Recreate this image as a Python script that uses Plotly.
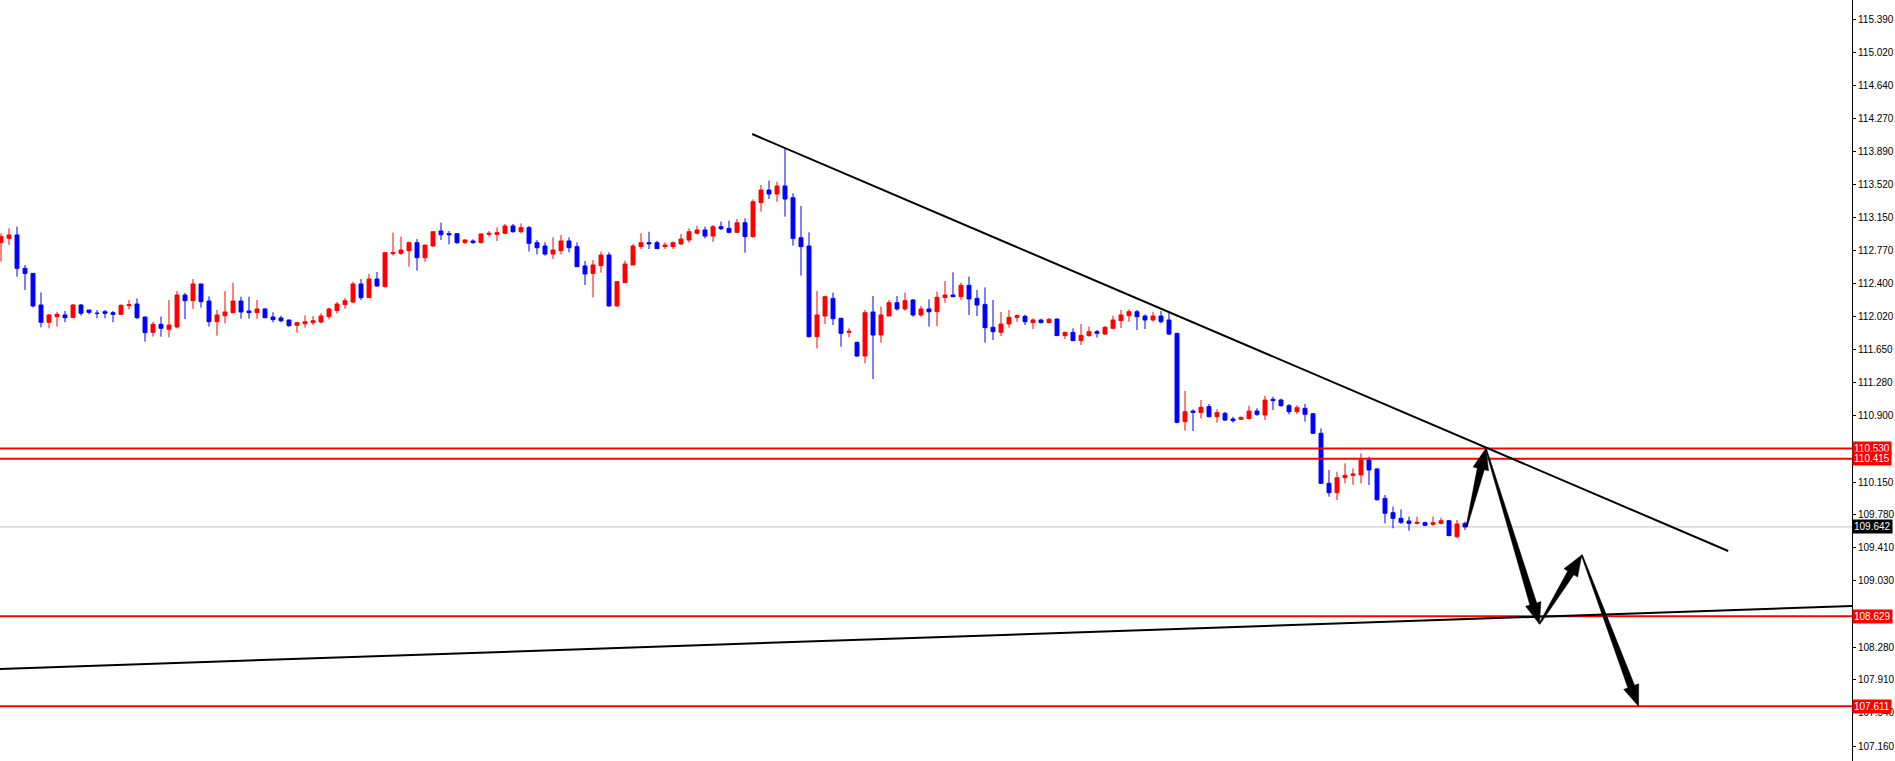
import plotly.graph_objects as go

# candle data, oldest first
opens = [
    112.861, 112.910, 112.948, 112.570, 112.513, 112.155, 111.959, 112.023, 112.042, 112.015,
    112.155, 112.098, 112.061, 112.079, 112.068, 112.049, 112.147, 112.166, 112.019, 111.845,
    111.936, 111.879, 111.906, 112.268, 112.204, 112.393, 112.200, 111.966, 112.034, 112.068,
    112.200, 112.087, 112.068, 112.110, 112.019, 112.008, 111.985, 111.925, 111.943, 111.955,
    111.962, 112.023, 112.091, 112.159, 112.189, 112.393, 112.238, 112.449, 112.363, 112.736,
    112.740, 112.770, 112.861, 112.691, 112.823, 112.993, 112.963, 112.963, 112.861, 112.880,
    112.861, 112.955, 112.955, 112.967, 113.050, 112.985, 113.031, 112.861, 112.823, 112.732,
    112.770, 112.880, 112.816, 112.597, 112.513, 112.600, 112.721, 112.144, 112.408, 112.608,
    112.816, 112.861, 112.861, 112.816, 112.816, 112.846, 112.891, 112.967, 113.004, 112.936,
    113.042, 113.023, 112.978, 113.087, 112.929, 113.314, 113.457, 113.412, 113.503, 113.370,
    112.917, 112.823, 111.796, 112.030, 112.230, 112.004, 111.845, 111.732, 111.577, 112.076,
    111.815, 112.030, 112.181, 112.110, 112.212, 112.042, 112.110, 112.079, 112.238, 112.268,
    112.249, 112.378, 112.230, 112.162, 111.902, 111.845, 111.940, 112.015, 112.027, 111.955,
    111.985, 111.955, 111.996, 111.808, 111.845, 111.751, 111.808, 111.853, 111.826, 111.891,
    111.977, 112.034, 112.079, 112.030, 111.985, 112.030, 111.985, 111.834, 110.834, 110.954,
    110.936, 111.004, 110.890, 110.928, 110.864, 110.860, 110.868, 110.954, 110.909, 111.087,
    111.079, 111.015, 110.947, 110.985, 110.924, 110.702, 110.135, 110.029, 110.199, 110.226,
    110.230, 110.400, 110.298, 109.965, 109.803, 109.739, 109.709, 109.682, 109.690, 109.671,
    109.682, 109.712, 109.531, 109.682,
]
highs = [
    112.967, 113.023, 113.042, 112.608, 112.513, 112.298, 112.053, 112.079, 112.087, 112.166,
    112.166, 112.098, 112.098, 112.098, 112.087, 112.162, 112.212, 112.230, 112.023, 111.966,
    112.023, 112.212, 112.313, 112.291, 112.449, 112.393, 112.253, 112.098, 112.313, 112.408,
    112.249, 112.249, 112.212, 112.117, 112.072, 112.034, 111.989, 111.959, 112.038, 112.030,
    112.061, 112.125, 112.189, 112.234, 112.419, 112.449, 112.506, 112.529, 112.748, 112.974,
    112.929, 112.872, 112.902, 112.834, 112.993, 113.087, 112.993, 112.967, 112.899, 112.899,
    112.967, 112.993, 113.034, 113.072, 113.072, 113.080, 113.050, 112.891, 112.865, 112.921,
    112.948, 112.921, 112.865, 112.653, 112.665, 112.759, 112.751, 112.419, 112.657, 112.846,
    112.967, 112.985, 112.883, 112.865, 112.872, 112.959, 113.023, 113.050, 113.042, 113.061,
    113.099, 113.110, 113.129, 113.136, 113.352, 113.514, 113.563, 113.552, 113.937, 113.420,
    113.276, 112.978, 112.313, 112.261, 112.295, 112.011, 111.891, 111.740, 112.098, 112.257,
    112.136, 112.212, 112.257, 112.295, 112.223, 112.144, 112.219, 112.306, 112.427, 112.525,
    112.408, 112.476, 112.325, 112.355, 112.212, 112.076, 112.098, 112.049, 112.045, 112.004,
    112.000, 112.008, 112.000, 111.853, 111.891, 111.940, 111.910, 111.872, 111.917, 112.034,
    112.098, 112.106, 112.098, 112.049, 112.079, 112.087, 112.079, 111.834, 111.181, 110.973,
    111.079, 111.034, 110.973, 110.943, 110.890, 110.890, 111.015, 110.985, 111.128, 111.117,
    111.094, 111.034, 111.022, 111.034, 110.928, 110.758, 110.286, 110.267, 110.362, 110.305,
    110.475, 110.437, 110.305, 110.003, 109.871, 109.841, 109.758, 109.758, 109.701, 109.758,
    109.747, 109.720, 109.720, 109.701,
]
lows = [
    112.646, 112.834, 112.476, 112.325, 112.128, 111.902, 111.891, 111.910, 111.959, 112.004,
    112.034, 112.049, 112.004, 112.004, 111.959, 112.042, 112.106, 111.996, 111.740, 111.796,
    111.796, 111.789, 111.891, 111.996, 112.110, 112.125, 111.910, 111.808, 111.947, 112.061,
    112.000, 112.000, 112.000, 112.011, 111.959, 111.959, 111.910, 111.842, 111.898, 111.928,
    111.947, 111.993, 112.061, 112.113, 112.174, 112.212, 112.238, 112.363, 112.351, 112.714,
    112.721, 112.589, 112.544, 112.646, 112.816, 112.891, 112.842, 112.849, 112.849, 112.849,
    112.853, 112.929, 112.880, 112.959, 112.974, 112.967, 112.759, 112.729, 112.714, 112.676,
    112.729, 112.751, 112.589, 112.381, 112.242, 112.521, 112.136, 112.136, 112.408, 112.608,
    112.789, 112.789, 112.793, 112.789, 112.789, 112.834, 112.861, 112.955, 112.910, 112.872,
    113.004, 112.967, 112.967, 112.748, 112.917, 113.212, 113.355, 113.325, 113.155, 112.827,
    112.487, 111.789, 111.664, 111.940, 111.928, 111.683, 111.789, 111.570, 111.494, 111.317,
    111.728, 112.030, 112.091, 112.091, 112.023, 112.023, 111.910, 111.917, 112.181, 112.249,
    112.212, 112.042, 112.030, 111.728, 111.759, 111.804, 111.898, 111.966, 111.928, 111.883,
    111.947, 111.947, 111.804, 111.770, 111.747, 111.702, 111.796, 111.785, 111.815, 111.879,
    111.894, 111.966, 111.872, 111.883, 111.966, 111.947, 111.815, 110.815, 110.732, 110.728,
    110.871, 110.883, 110.822, 110.841, 110.822, 110.852, 110.860, 110.898, 110.852, 110.966,
    111.004, 110.917, 110.921, 110.834, 110.694, 110.128, 109.984, 109.946, 110.135, 110.117,
    110.135, 110.117, 109.940, 109.682, 109.626, 109.675, 109.599, 109.671, 109.652, 109.652,
    109.671, 109.539, 109.512, 109.607,
]
closes = [
    112.929, 112.948, 112.570, 112.513, 112.144, 111.959, 112.042, 112.049, 112.011, 112.155,
    112.061, 112.072, 112.061, 112.061, 112.049, 112.151, 112.159, 112.011, 111.842, 111.936,
    111.891, 111.928, 112.268, 112.204, 112.393, 112.193, 111.966, 112.042, 112.076, 112.200,
    112.076, 112.068, 112.110, 112.011, 111.989, 111.977, 111.921, 111.955, 111.966, 111.977,
    112.030, 112.110, 112.166, 112.204, 112.393, 112.238, 112.449, 112.370, 112.748, 112.748,
    112.778, 112.861, 112.691, 112.834, 112.985, 112.951, 112.951, 112.861, 112.891, 112.861,
    112.959, 112.967, 112.974, 113.050, 112.985, 113.031, 112.853, 112.804, 112.732, 112.778,
    112.880, 112.804, 112.589, 112.506, 112.608, 112.721, 112.144, 112.419, 112.619, 112.823,
    112.861, 112.849, 112.793, 112.834, 112.861, 112.902, 112.985, 113.004, 112.936, 113.042,
    113.019, 112.978, 113.087, 112.929, 113.325, 113.457, 113.412, 113.503, 113.355, 112.910,
    112.816, 111.796, 112.042, 112.249, 112.000, 111.834, 111.857, 111.577, 112.068, 111.815,
    112.042, 112.181, 112.110, 112.204, 112.042, 112.110, 112.079, 112.242, 112.268, 112.249,
    112.378, 112.223, 112.155, 111.898, 111.853, 111.940, 112.015, 112.034, 111.966, 111.985,
    111.955, 111.993, 111.808, 111.845, 111.751, 111.811, 111.853, 111.834, 111.902, 111.985,
    112.042, 112.079, 112.023, 111.985, 112.030, 111.966, 111.826, 110.826, 110.947, 110.939,
    110.996, 110.890, 110.936, 110.852, 110.845, 110.883, 110.954, 110.917, 111.079, 111.072,
    111.015, 110.947, 110.992, 110.917, 110.702, 110.135, 110.029, 110.199, 110.226, 110.241,
    110.400, 110.286, 109.950, 109.796, 109.739, 109.694, 109.682, 109.694, 109.660, 109.690,
    109.712, 109.543, 109.675, 109.642,
]

# price axis
tick_prices = [115.390, 115.020, 114.640, 114.270, 113.890, 113.520, 113.150, 112.770,
               112.400, 112.020, 111.650, 111.280, 110.900, 110.150, 109.780, 109.410,
               109.030, 108.280, 107.910, 107.540, 107.160]
y_range = [106.991, 115.609]
x_range = [-0.125, 231.375]

# horizontal levels and current bid
level_prices = [110.530, 110.415, 108.629, 107.611]
bid_price = 109.642

# trendlines (bar index, price)
down_trend_x = [93.9, 215.9]
down_trend_y = [114.091, 109.369]
up_trend_x = [-0.125, 231.375]
up_trend_y = [108.033, 108.746]

# projected path drawn with arrows
proj_x = [183.2, 185.6, 192.3, 197.6, 204.7]
proj_y = [109.642, 110.530, 108.542, 109.324, 107.611]

W, H = 1852, 761
FONT = "Liberation Sans"


def to_px(xv, yv):
    px = (xv - x_range[0]) / (x_range[1] - x_range[0]) * W
    py = (y_range[1] - yv) / (y_range[1] - y_range[0]) * H
    return px, py


def to_data(px, py):
    xv = x_range[0] + px / W * (x_range[1] - x_range[0])
    yv = y_range[1] - py / H * (y_range[1] - y_range[0])
    return xv, yv


def arrow_path(x0, y0, x1, y1, head=21, head_w=8, shaft_w=3.6, tail_w=0.6):
    """Tapered arrow polygon from (x0,y0) to (x1,y1), built in pixels."""
    tx, ty = to_px(x0, y0)
    hx, hy = to_px(x1, y1)
    length = ((hx - tx) ** 2 + (hy - ty) ** 2) ** 0.5
    dx, dy = (hx - tx) / length, (hy - ty) / length
    nx, ny = -dy, dx
    bx, by = hx - dx * head, hy - dy * head
    pts = [
        (tx + nx * tail_w, ty + ny * tail_w),
        (bx + nx * shaft_w, by + ny * shaft_w),
        (bx + nx * head_w, by + ny * head_w),
        (hx, hy),
        (bx - nx * head_w, by - ny * head_w),
        (bx - nx * shaft_w, by - ny * shaft_w),
        (tx - nx * tail_w, ty - ny * tail_w),
    ]
    coords = [to_data(px, py) for px, py in pts]
    return "M " + " L ".join(f"{a:.4f},{b:.5f}" for a, b in coords) + " Z"


fig = go.Figure()

fig.add_trace(go.Candlestick(
    x=list(range(len(opens))),
    open=opens, high=highs, low=lows, close=closes,
    increasing=dict(line=dict(color='#FF0000', width=1), fillcolor='#FF0000'),
    decreasing=dict(line=dict(color='#0000FF', width=1), fillcolor='#0000FF'),
    whiskerwidth=0,
    hoverinfo='skip'
))

shapes = []

# bid line
shapes.append(dict(type='line', xref='paper', x0=0, x1=1, yref='y', y0=bid_price, y1=bid_price,
                   line=dict(color='#C0C0C0', width=1), layer='below'))

# red levels
for p in level_prices:
    shapes.append(dict(type='line', xref='paper', x0=0, x1=1, yref='y', y0=p, y1=p,
                       line=dict(color='#FF0000', width=2)))

# trendlines
shapes.append(dict(type='line', x0=down_trend_x[0], y0=down_trend_y[0],
                   x1=down_trend_x[1], y1=down_trend_y[1], line=dict(color='black', width=2)))
shapes.append(dict(type='line', x0=up_trend_x[0], y0=up_trend_y[0],
                   x1=up_trend_x[1], y1=up_trend_y[1], line=dict(color='black', width=2)))

# projection arrows
for i in range(len(proj_x) - 1):
    shapes.append(dict(type='path', path=arrow_path(proj_x[i], proj_y[i], proj_x[i + 1], proj_y[i + 1]),
                       fillcolor='black', line=dict(color='black', width=0.5)))

annotations = []
for p in level_prices:
    annotations.append(dict(xref='paper', x=1, xanchor='left', yref='y', y=p, yanchor='middle',
                            text=f"{p:.3f}", showarrow=False, bgcolor='#FF0000', borderpad=1,
                            font=dict(family=FONT, size=10, color='white')))
annotations.append(dict(xref='paper', x=1, xanchor='left', yref='y', y=bid_price, yanchor='middle',
                        text=f"{bid_price:.3f}", showarrow=False, bgcolor='black', borderpad=1,
                        font=dict(family=FONT, size=10, color='white')))

fig.update_layout(
    width=1895,
    height=761,
    margin=dict(l=0, r=43, t=0, b=0),
    paper_bgcolor='white',
    plot_bgcolor='white',
    showlegend=False,
    shapes=shapes,
    annotations=annotations,
    xaxis=dict(range=x_range, visible=False, rangeslider=dict(visible=False)),
    yaxis=dict(
        range=y_range,
        side='right',
        showgrid=False,
        zeroline=False,
        showline=True,
        linecolor='black',
        linewidth=1,
        ticks='outside',
        ticklen=3,
        tickcolor='black',
        tickvals=tick_prices,
        tickformat='.3f',
        tickfont=dict(family=FONT, size=10, color='black'),
    ),
)

# the page body has a default 8px margin; drop it so the chart fills the window
fig.write_html(
    "out.html",
    config={'displayModeBar': False},
    post_script="document.body.style.margin='0';document.body.style.overflow='hidden';",
)
